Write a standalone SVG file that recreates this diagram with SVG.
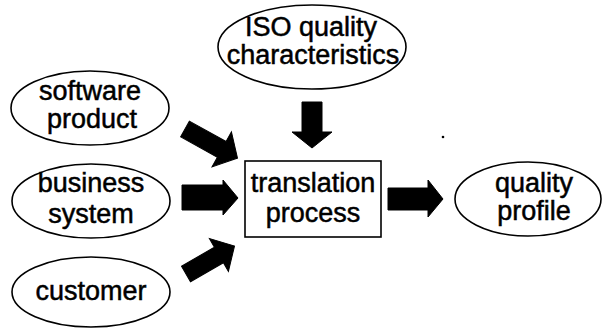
<svg xmlns="http://www.w3.org/2000/svg" width="602" height="330" viewBox="0 0 602 330">
<style>
.n{fill:#fff;stroke:#000;stroke-width:1.6}
.t{font-family:"Liberation Sans",Arial,sans-serif;font-size:27px;fill:#000;stroke:#000;stroke-width:0.5;text-anchor:middle}
.a{fill:#000;stroke:#000;stroke-width:1}
</style>
<rect width="602" height="330" fill="#fff"/>
<g id="connectors">
<polygon class="a" points="0,-9 42,-9 42,-20 60,0 42,20 42,9 0,9" transform="translate(185,129) rotate(29)"/>
<polygon class="a" points="182,185 223,185 223,180 238,198 223,215 223,210 182,210"/>
<polygon class="a" points="0,-9 38,-9 38,-19 56,0 38,19 38,9 0,9" transform="translate(186,274) rotate(-30)"/>
<polygon class="a" points="302,102 322,102 322,132 332,132 312,148 292,132 302,132"/>
<polygon class="a" points="388,188 428,188 428,180 443,199 428,217 428,210 388,210"/>
</g>
<g id="iso">
<ellipse class="n" cx="312" cy="47" rx="94" ry="42"/>
<text class="t" x="311" y="36">ISO quality</text>
<text class="t" x="313" y="64">characteristics</text>
</g>
<g id="software">
<ellipse class="n" cx="90" cy="108" rx="79" ry="37"/>
<text class="t" x="90" y="100">software</text>
<text class="t" x="92" y="128">product</text>
</g>
<g id="business">
<ellipse class="n" cx="91" cy="201" rx="79" ry="37"/>
<text class="t" x="91" y="192">business</text>
<text class="t" x="91" y="223">system</text>
</g>
<g id="customer">
<ellipse class="n" cx="91" cy="292" rx="79" ry="35"/>
<text class="t" x="91" y="300">customer</text>
</g>
<g id="translation">
<rect class="n" x="245" y="161" width="136" height="76"/>
<text class="t" x="313" y="192">translation</text>
<text class="t" x="313" y="222">process</text>
</g>
<g id="quality">
<ellipse class="n" cx="528" cy="199" rx="73" ry="37"/>
<text class="t" x="534" y="192">quality</text>
<text class="t" x="534" y="220">profile</text>
</g>
<circle cx="443" cy="137" r="1.3" fill="#000"/>
</svg>
